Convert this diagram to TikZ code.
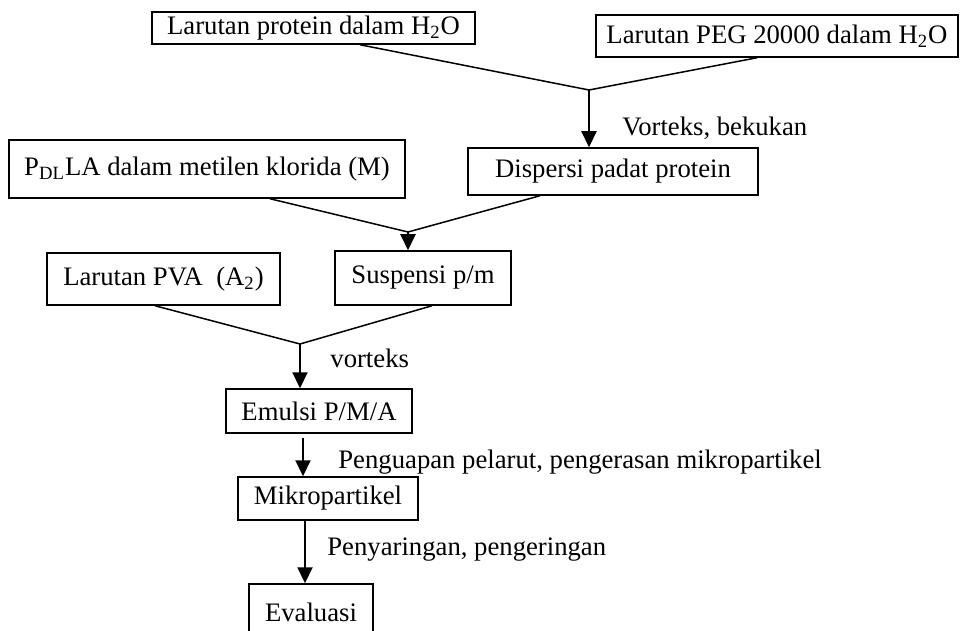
\documentclass[tikz,border=0pt]{standalone}
\usepackage{fontspec}
\setmainfont{Liberation Serif}
\usetikzlibrary{arrows.meta}

\tikzset{
    stepbox/.style={draw, line width=0.75pt, inner xsep=2pt, inner ysep=0pt, font=\fontsize{13.35}{16}\selectfont},
    joinline/.style={line width=0.75pt},
    flowarrow/.style={line width=1.1pt, -{Triangle[length=8pt,width=7.5pt]}},
    steplabel/.style={anchor=west, inner sep=0pt, font=\fontsize{13.35}{16}\selectfont}
}

\begin{document}
\begin{tikzpicture}[x=0.5pt, y=-0.5pt]
    \useasboundingbox (0,0) rectangle (960,631);
    % Top inputs
    \node[stepbox, minimum width=161.5pt, minimum height=16pt] (prot) at (313.5,28) {Larutan protein dalam H\textsubscript{2}O};
    \node[stepbox, minimum width=181pt, minimum height=21pt] (peg) at (777,36) {Larutan PEG 20000 dalam H\textsubscript{2}O};
    \coordinate (j1) at (589,90);
    \draw[joinline] ([xshift=23.25pt]prot.south) -- (j1);
    \draw[joinline] ([xshift=-10pt]peg.south) -- (j1);
    % Dispersion
    \node[stepbox, minimum width=145pt, minimum height=23.5pt] (disp) at (613,171.5) {Dispersi padat protein};
    \draw[flowarrow] (j1) -- (j1 |- disp.north);
    \node[steplabel] (lblvb) at (622,128) {Vorteks, bekukan};
    % Polymer
    \node[stepbox, minimum width=198pt, minimum height=29pt] (pdlla) at (207,169) {P\textsubscript{DL}LA dalam metilen klorida (M)};
    \coordinate (j2) at (408,232);
    \draw[joinline] ([xshift=31.5pt]pdlla.south) -- (j2);
    \draw[joinline] ([xshift=-36.5pt]disp.south) -- (j2);
    % Suspension
    \node[stepbox, minimum width=88pt, minimum height=27pt] (susp) at (423,278) {Suspensi p/m};
    \draw[flowarrow] (j2) -- (j2 |- susp.north);
    \node[stepbox, minimum width=116.5pt, minimum height=26pt] (pva) at (163.5,279) {Larutan PVA~~(A\textsubscript{2})};
    \coordinate (j3) at (300,344);
    \draw[joinline] ([xshift=-4.25pt]pva.south) -- (j3);
    \draw[joinline] ([xshift=4.5pt]susp.south) -- (j3);
    % Emulsion
    \node[stepbox, minimum width=93pt, minimum height=22pt] (emul) at (319,411) {Emulsi P/M/A};
    \draw[flowarrow] (j3) -- (j3 |- emul.north);
    \node[steplabel] (lblv) at (330,358) {vorteks};
    % Microparticles
    \node[stepbox, minimum width=90pt, minimum height=21.5pt] (mikro) at (328,498.5) {Mikropartikel};
    \coordinate (a1) at ([xshift=-8pt, yshift=-2pt]emul.south);
    \draw[flowarrow] (a1) -- (a1 |- mikro.north);
    \node[steplabel] (lblpp) at (338,462) {Penguapan pelarut, pengerasan mikropartikel};
    % Evaluation
    \node[stepbox, minimum width=62pt, minimum height=28pt] (eval) at (311,612) {Evaluasi};
    \coordinate (a2) at ([xshift=-11.5pt]mikro.south);
    \draw[flowarrow] (a2) -- (a2 |- eval.north);
    \node[steplabel] (lblsp) at (327,550) {Penyaringan, pengeringan};
\end{tikzpicture}
\end{document}
